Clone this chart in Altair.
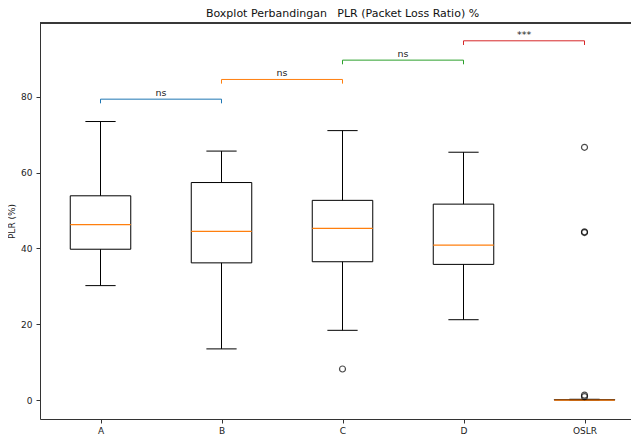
import altair as alt
import pandas as pd

# ---- data ----
title_text = "Boxplot Perbandingan\u00a0\u00a0 PLR (Packet Loss Ratio) %"
groups = ["A", "B", "C", "D", "OSLR"]
whisker_lo = [30.2, 13.5, 18.4, 21.2, 0.0]
q1 = [39.8, 36.2, 36.5, 35.8, 0.0]
median = [46.3, 44.5, 45.3, 40.9, 0.0]
q3 = [53.9, 57.4, 52.7, 51.7, 0.1]
whisker_hi = [73.5, 65.7, 71.1, 65.4, 0.2]

outlier_group = ["C", "OSLR", "OSLR", "OSLR", "OSLR", "OSLR"]
outlier_value = [8.2, 66.7, 44.4, 44.2, 1.3, 0.9]

pair_from = ["A", "B", "C", "D"]
pair_to = ["B", "C", "D", "OSLR"]
bracket_level = [79.4, 84.6, 89.7, 94.8]
bracket_label = ["ns", "ns", "ns", "***"]
bracket_colors = ["#1f77b4", "#ff7f0e", "#2ca02c", "#d62728"]

yticks = [0, 20, 40, 60, 80]

# ---- tables ----
pos = {g: i + 1 for i, g in enumerate(groups)}
box_df = pd.DataFrame({
    "group": groups,
    "pos": [pos[g] for g in groups],
    "lo": whisker_lo, "q1": q1, "med": median, "q3": q3, "hi": whisker_hi,
})
out_df = pd.DataFrame({"group": outlier_group,
                       "pos": [pos[g] for g in outlier_group],
                       "value": outlier_value})
br_df = pd.DataFrame({
    "pair": [f"{a}-{b}" for a, b in zip(pair_from, pair_to)],
    "p1": [pos[g] for g in pair_from],
    "p2": [pos[g] for g in pair_to],
    "level": bracket_level,
    "label": bracket_label,
})
title_df = pd.DataFrame({"t": [title_text]})

W, H = 591, 396
PX_PER_UNIT = 121.0
FONT = "DejaVu Sans"
xscale = alt.Scale(domain=[0.5, 0.5 + W / PX_PER_UNIT], nice=False, zero=False)
yscale = alt.Scale(domain=[-5.0, 99.5], nice=False, zero=False)
label_expr = "[" + ",".join(f"'{g}'" for g in groups) + "][datum.value - 1]"

xaxis = alt.Axis(values=list(range(1, len(groups) + 1)), labelExpr=label_expr,
                 title=None, grid=False, tickSize=4, labelPadding=3,
                 labelFontSize=9, labelFont=FONT, labelColor="#222",
                 domainColor="#333", tickColor="#333")
yaxis = alt.Axis(values=yticks, title="PLR (%)", grid=False, tickSize=4,
                 labelPadding=4, labelFontSize=9, labelFont=FONT,
                 labelColor="#222", titleFont=FONT, titleFontSize=9,
                 titleFontWeight="normal", titleColor="#222", titlePadding=4,
                 domainColor="#333", tickColor="#333")

boxes = alt.Chart(box_df).transform_calculate(
    xl="datum.pos - 0.25", xr="datum.pos + 0.25",
    cl="datum.pos - 0.125", cr="datum.pos + 0.125",
)

whisk_lo = boxes.mark_rule(color="black", strokeWidth=1).encode(
    x=alt.X("pos:Q", scale=xscale, axis=xaxis),
    y=alt.Y("lo:Q", scale=yscale, axis=yaxis),
    y2="q1:Q",
)
whisk_hi = boxes.mark_rule(color="black", strokeWidth=1).encode(
    x=alt.X("pos:Q", scale=xscale), y=alt.Y("q3:Q", scale=yscale), y2="hi:Q")
cap_lo = boxes.mark_rule(color="black", strokeWidth=1).encode(
    x=alt.X("cl:Q", scale=xscale), x2="cr:Q", y=alt.Y("lo:Q", scale=yscale))
cap_hi = boxes.mark_rule(color="black", strokeWidth=1).encode(
    x=alt.X("cl:Q", scale=xscale), x2="cr:Q", y=alt.Y("hi:Q", scale=yscale))
box = boxes.mark_rect(fill="white", fillOpacity=0, stroke="black",
                      strokeWidth=1).encode(
    x=alt.X("xl:Q", scale=xscale), x2="xr:Q",
    y=alt.Y("q1:Q", scale=yscale), y2="q3:Q")
med = boxes.mark_rule(color="#ff7f0e", strokeWidth=1.2).encode(
    x=alt.X("xl:Q", scale=xscale), x2="xr:Q", y=alt.Y("med:Q", scale=yscale))

fliers = alt.Chart(out_df).mark_point(shape="circle", filled=False,
                                      color="black", size=36,
                                      strokeWidth=1.2).encode(
    x=alt.X("pos:Q", scale=xscale), y=alt.Y("value:Q", scale=yscale))

bcolor = alt.Color("pair:N", scale=alt.Scale(domain=list(br_df["pair"]),
                                             range=bracket_colors), legend=None)
br = alt.Chart(br_df).transform_calculate(
    low="datum.level - 1.1", mid="(datum.p1 + datum.p2) / 2")
br_h = br.mark_rule(strokeWidth=1).encode(
    x=alt.X("p1:Q", scale=xscale), x2="p2:Q",
    y=alt.Y("level:Q", scale=yscale), color=bcolor)
br_l = br.mark_rule(strokeWidth=1).encode(
    x=alt.X("p1:Q", scale=xscale), y=alt.Y("low:Q", scale=yscale),
    y2="level:Q", color=bcolor)
br_r = br.mark_rule(strokeWidth=1).encode(
    x=alt.X("p2:Q", scale=xscale), y=alt.Y("low:Q", scale=yscale),
    y2="level:Q", color=bcolor)
br_t = br.mark_text(baseline="bottom", dy=-1, font=FONT, fontSize=9.5,
                    color="#222").encode(
    x=alt.X("mid:Q", scale=xscale), y=alt.Y("level:Q", scale=yscale),
    text="label:N")

top_spine = alt.Chart(box_df).mark_rule(color="#333", strokeWidth=1).encode(
    x=alt.value(0), x2=alt.value(W), y=alt.value(0))

# title centred over the full (uncropped) axes span 0.5 .. 5.5
title_mark = alt.Chart(title_df).mark_text(
    align="center", baseline="alphabetic", font=FONT, fontSize=11,
    color="#111").encode(text="t:N", x=alt.value(2.5 * PX_PER_UNIT),
                         y=alt.value(-6))

chart = alt.layer(
    whisk_lo, whisk_hi, cap_lo, cap_hi, box, med, fliers,
    br_h, br_l, br_r, br_t, top_spine, title_mark,
).properties(
    width=W, height=H,
    autosize=alt.AutoSizeParams(type="none"),
    padding={"left": 32, "top": 15, "right": 0, "bottom": 19},
).configure_view(stroke=None).configure(background="white")

chart.save("out.html", embed_options={"renderer": "svg", "actions": False})
